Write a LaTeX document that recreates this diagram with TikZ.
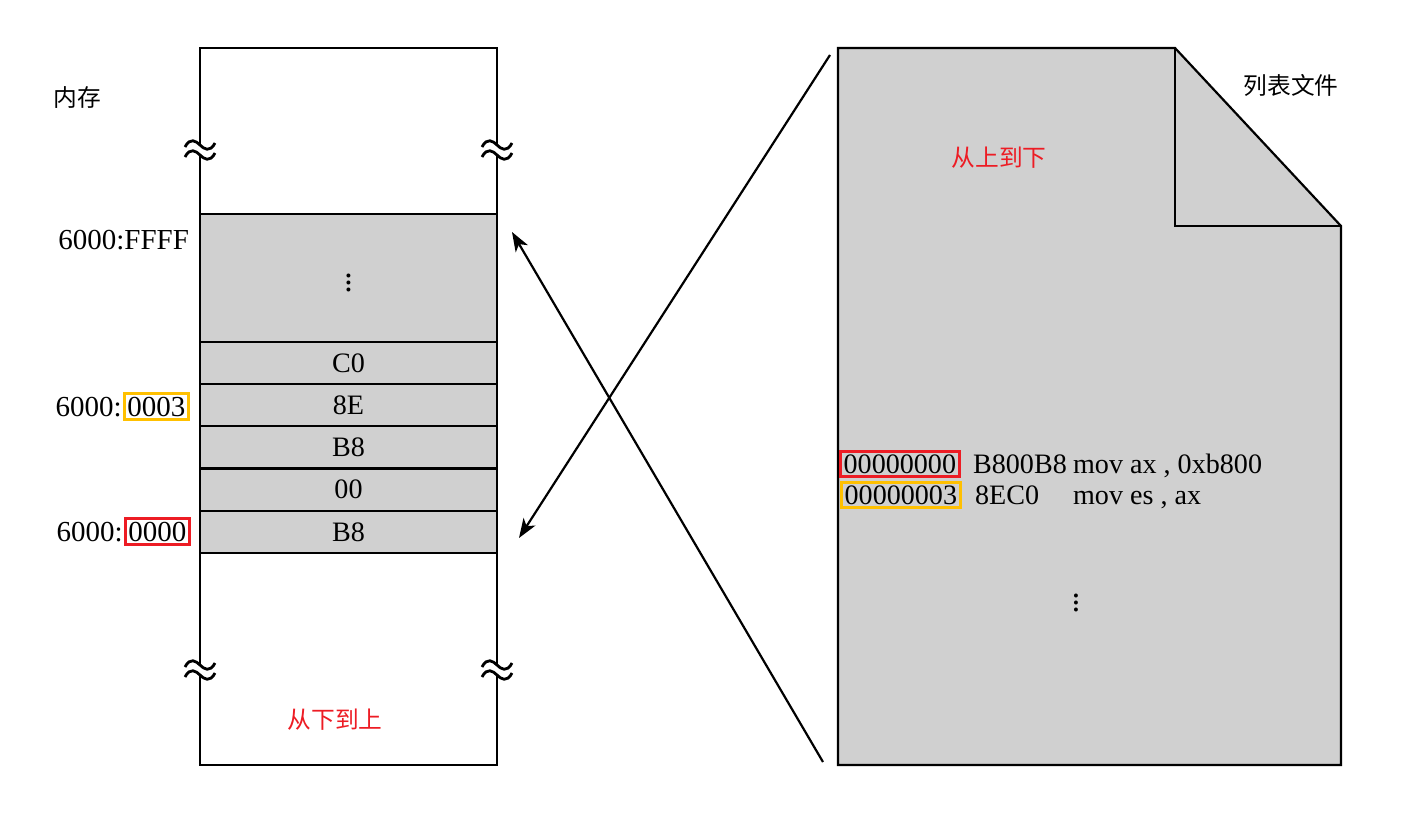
\documentclass[tikz,border=0pt]{standalone}
\usepackage{fontspec}
\setmainfont{Liberation Serif}
\newfontfamily\cjk{Noto Sans CJK SC}
\usetikzlibrary{arrows.meta,positioning}
\definecolor{memgray}{RGB}{208,208,208}
\definecolor{hlred}{RGB}{237,28,36}
\definecolor{hlyellow}{RGB}{255,192,0}

\begin{document}
\begin{tikzpicture}[x=0.02cm,y=-0.02cm,>={Stealth[length=11pt,width=8pt,inset=3pt]},line width=1.25pt,
  cell/.style={draw,fill=memgray,minimum width=5.94cm,minimum height=0.844cm,outer sep=0pt,inner sep=0pt,font=\fontsize{16}{18}\selectfont},
  lbl/.style={font=\fontsize{16.5}{19}\selectfont,inner sep=0pt},
  lst/.style={font=\fontsize{16}{18}\selectfont,inner sep=0pt},
  hl/.style={draw=#1,line width=1.7pt,inner sep=1.8pt},
  cjklbl/.style={font=\cjk\fontsize{13.5}{16}\selectfont},
  gapmark/.pic={
    \fill[white] (-3,-4) rectangle (3,4);
    \draw[line width=1.6pt] (-15,-3) .. controls (-10,-13) and (-4,-9) .. (0,-5) .. controls (4,-1) and (10,3) .. (15,-7);
    \draw[line width=1.6pt] (-15,7) .. controls (-10,-3) and (-4,1) .. (0,5) .. controls (4,9) and (10,13) .. (15,3);
  }]
\useasboundingbox (0,0) rectangle (1420,819);

% memory
\draw (200,48) rectangle (497,765);
\node[cell,minimum height=2.56cm,font=\fontsize{19}{21}\selectfont] (blk) at (348.5,278) {$\vdots$};
\node[cell] (b4) [below=0pt of blk] {C0};
\node[cell] (b3) [below=0pt of b4] {8E};
\node[cell] (b2) [below=0pt of b3] {B8};
\node[cell] (b1) [below=0pt of b2] {00};
\node[cell] (b0) [below=0pt of b1] {B8};
\foreach \x in {200,497}
  \foreach \y in {150,670}
    \pic at (\x,\y) {gapmark};

\node[cjklbl] (memlbl) at (77,98) {内存};
\node[cjklbl,text=hlred] (uplbl) at (335,720) {从下到上};

\node[lbl,anchor=base east] (ffff) at (190,249) {6000:FFFF};
\node[lbl,hl=hlyellow,anchor=base east] (off3) at (190,416) {0003};
\node[lbl,anchor=base east] (seg3) at (off3.base west) {6000:};
\node[lbl,hl=hlred,anchor=base east] (off0) at (191,541) {0000};
\node[lbl,anchor=base east] (seg0) at (off0.base west) {6000:};

% listing file
\draw[fill=memgray] (838,48) -- (1175,48) -- (1341,226) -- (1341,765) -- (838,765) -- cycle;
\draw (1175,48) -- (1175,226) -- (1341,226);

\node[cjklbl] (filelbl) at (1291,85) {列表文件};
\node[cjklbl,text=hlred] (downlbl) at (999,158) {从上到下};

\node[lst,hl=hlred,anchor=base west] (a0) at (839,473) {00000000};
\node[lst,anchor=base west] (k0) at (972,473) {B800B8};
\node[lst,anchor=base west] (i0) at (1072,473) {mov ax , 0xb800};
\node[lst,hl=hlyellow,anchor=base west] (a3) at (840,504) {00000003};
\node[lst,anchor=base west] (k3) at (974,504) {8EC0};
\node[lst,anchor=base west] (i3) at (1072,504) {mov es , ax};
\node[lst,font=\fontsize{19}{21}\selectfont] (more) at (1076,598) {$\vdots$};

% crossing arrows
\coordinate (ptop) at (830,55);
\coordinate (pbot) at (823,762);
\coordinate (tip0) at (519,538);
\coordinate (tipf) at (512,232);
\draw[->] (ptop) -- (tip0);
\draw[->] (pbot) -- (tipf);

\end{tikzpicture}
\end{document}
